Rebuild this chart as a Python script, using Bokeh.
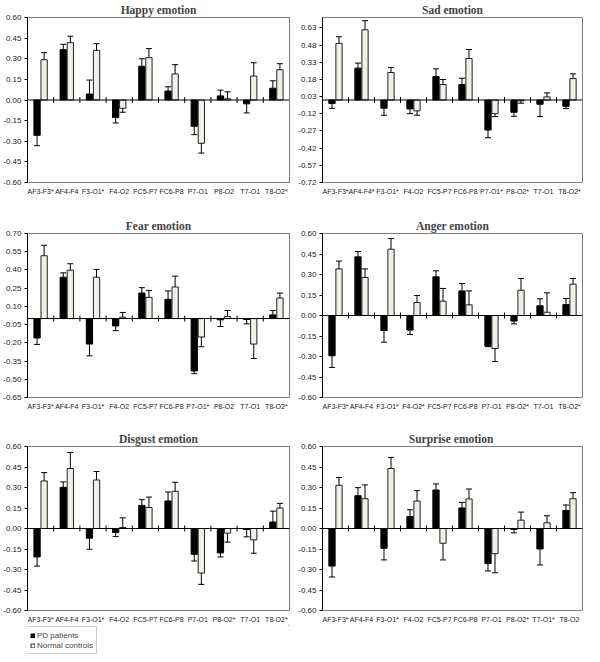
import math
from bokeh.plotting import figure
from bokeh.layouts import column, row
from bokeh.models import (FactorRange, Range1d, ColumnDataSource, Span, Legend, LegendItem,
                          FixedTicker, NumeralTickFormatter)
from bokeh.transform import dodge
from bokeh.embed import file_html
from bokeh.resources import INLINE

# ---------------- data ----------------
happy_cats = ["AF3-F3*", "AF4-F4", "F3-O1*", "F4-O2", "FC5-P7", "FC6-P8", "P7-O1", "P8-O2", "T7-O1", "T8-O2*"]
happy_pd = [-0.257, 0.366, 0.043, -0.128, 0.245, 0.065, -0.191, 0.030, -0.028, 0.086]
happy_pd_err = [0.075, 0.039, 0.102, 0.039, 0.055, 0.031, 0.061, 0.042, 0.066, 0.054]
happy_nc = [0.293, 0.417, 0.361, -0.060, 0.308, 0.189, -0.315, 0.009, 0.174, 0.220]
happy_nc_err = [0.051, 0.047, 0.049, 0.029, 0.066, 0.068, 0.071, 0.051, 0.097, 0.044]

sad_cats = ["AF3-F3*", "AF4-F4*", "F3-O1*", "F4-O2", "FC5-P7", "FC6-P8", "P7-O1*", "P8-O2*", "T7-O1", "T8-O2*"]
sad_pd = [-0.031, 0.278, -0.072, -0.078, 0.205, 0.135, -0.262, -0.107, -0.037, -0.055]
sad_pd_err = [0.041, 0.044, 0.061, 0.041, 0.067, 0.055, 0.067, 0.035, 0.108, 0.020]
sad_nc = [0.494, 0.613, 0.240, -0.095, 0.135, 0.362, -0.119, -0.008, 0.027, 0.187]
sad_nc_err = [0.058, 0.079, 0.044, 0.038, 0.044, 0.079, 0.026, 0.020, 0.035, 0.041]

fear_cats = ["AF3-F3*", "AF4-F4", "F3-O1*", "F4-O2", "FC5-P7", "FC6-P8", "P7-O1*", "P8-O2", "T7-O1", "T8-O2*"]
fear_pd = [-0.160, 0.340, -0.210, -0.061, 0.210, 0.158, -0.432, -0.011, -0.008, 0.030]
fear_pd_err = [0.053, 0.036, 0.097, 0.039, 0.044, 0.069, 0.022, 0.055, 0.036, 0.036]
fear_nc = [0.517, 0.398, 0.340, 0.011, 0.174, 0.260, -0.152, 0.017, -0.210, 0.169]
fear_nc_err = [0.086, 0.053, 0.064, 0.039, 0.058, 0.089, 0.080, 0.049, 0.119, 0.041]

anger_cats = ["AF3-F3*", "AF4-F4", "F3-O1*", "F4-O2*", "FC5-P7", "FC6-P8", "P7-O1", "P8-O2*", "T7-O1", "T8-O2*"]
anger_pd = [-0.295, 0.429, -0.110, -0.107, 0.283, 0.180, -0.224, -0.041, 0.071, 0.080]
anger_pd_err = [0.085, 0.039, 0.085, 0.032, 0.044, 0.054, 0.004, 0.020, 0.051, 0.044]
anger_nc = [0.341, 0.278, 0.485, 0.095, 0.105, 0.078, -0.241, 0.185, 0.024, 0.229]
anger_nc_err = [0.057, 0.063, 0.078, 0.051, 0.093, 0.102, 0.096, 0.086, 0.142, 0.042]

disgust_cats = ["AF3-F3*", "AF4-F4", "F3-O1*", "F4-O2", "FC5-P7", "FC6-P8", "P7-O1", "P8-O2*", "T7-O1", "T8-O2*"]
disgust_pd = [-0.208, 0.301, -0.071, -0.029, 0.169, 0.201, -0.189, -0.179, -0.007, 0.047]
disgust_pd_err = [0.067, 0.040, 0.081, 0.030, 0.042, 0.066, 0.049, 0.029, 0.054, 0.080]
disgust_nc = [0.348, 0.439, 0.355, 0.007, 0.154, 0.272, -0.326, -0.034, -0.083, 0.150]
disgust_nc_err = [0.061, 0.117, 0.062, 0.071, 0.076, 0.066, 0.083, 0.066, 0.098, 0.034]

surprise_cats = ["AF3-F3*", "AF4-F4", "F3-O1*", "F4-O2", "FC5-P7", "FC6-P8", "P7-O1", "P8-O2*", "T7-O1*", "T8-O2"]
surprise_pd = [-0.275, 0.240, -0.145, 0.088, 0.282, 0.150, -0.257, -0.007, -0.150, 0.132]
surprise_pd_err = [0.080, 0.059, 0.085, 0.049, 0.044, 0.041, 0.054, 0.025, 0.117, 0.040]
surprise_nc = [0.316, 0.218, 0.439, 0.201, -0.108, 0.216, -0.184, 0.061, 0.042, 0.218]
surprise_nc_err = [0.057, 0.101, 0.081, 0.076, 0.122, 0.073, 0.140, 0.059, 0.051, 0.044]

ticks_std = [-0.60, -0.45, -0.30, -0.15, 0.00, 0.15, 0.30, 0.45, 0.60]
ticks_sad = [-0.72, -0.57, -0.42, -0.27, -0.12, 0.03, 0.18, 0.33, 0.48, 0.63]
ticks_fear = [-0.65, -0.50, -0.35, -0.20, -0.05, 0.10, 0.25, 0.40, 0.55, 0.70]

series_names = ["PD patients", "Normal controls"]

PD_FILL = "#000000"
NC_FILL = "#F0F0E8"
SANS = "Liberation Sans"
SERIF = "Liberation Serif"


def ends(vals, errs):
    return [v + (e if v >= 0 else -e) for v, e in zip(vals, errs)]


def panel(title, cats, pdv, pde, ncv, nce, ymin, ymax, ticks, fw, fh, bottom, top, right):
    p = figure(x_range=FactorRange(factors=cats), y_range=Range1d(ymin, ymax),
               frame_width=fw, frame_height=fh, output_backend="svg", toolbar_location=None,
               min_border_left=2, min_border_right=right,
               min_border_top=top, min_border_bottom=bottom)
    p.title.text = title
    p.title.text_font = SERIF
    p.title.text_font_size = "11.5px"
    p.title.text_font_style = "bold"
    p.title.align = "center"
    p.title.standoff = 3
    p.title.offset = 0

    p.outline_line_color = "#7F7F7F"
    p.outline_line_width = 1
    p.xgrid.grid_line_color = None
    p.ygrid.grid_line_color = None

    src = ColumnDataSource(dict(cat=cats, pd=pdv, nc=ncv,
                                pd_end=ends(pdv, pde), nc_end=ends(ncv, nce)))
    off = 0.135
    bw = 0.24
    p.vbar(x=dodge("cat", -off, range=p.x_range), top="pd", bottom=0, width=bw,
           source=src, fill_color=PD_FILL, line_color="#000000", line_width=1)
    p.vbar(x=dodge("cat", off, range=p.x_range), top="nc", bottom=0, width=bw,
           source=src, fill_color=NC_FILL, line_color="#222222", line_width=1)

    for key, o in (("pd", -off), ("nc", off)):
        p.segment(x0=dodge("cat", o, range=p.x_range), x1=dodge("cat", o, range=p.x_range),
                  y0=key, y1=key + "_end", source=src, line_color="#000000", line_width=1)
        p.scatter(x=dodge("cat", o, range=p.x_range), y=key + "_end", marker="dash", size=6,
                  source=src, line_color="#000000", line_width=1)

    p.add_layout(Span(location=0, dimension="width", line_color="#000000", line_width=1))
    bsrc = ColumnDataSource(dict(cat=cats[:-1], y=[0] * (len(cats) - 1)))
    p.scatter(x=dodge("cat", 0.5, range=p.x_range), y="y", marker="dash", angle=math.pi / 2,
              size=6, source=bsrc, line_color="#000000", line_width=1)

    ya = p.yaxis[0]
    ya.ticker = FixedTicker(ticks=ticks)
    ya.formatter = NumeralTickFormatter(format="0.00")
    ya.major_label_text_font = SANS
    ya.major_label_text_font_size = "8px"
    ya.major_label_text_color = "#222222"
    ya.axis_line_color = "#000000"
    ya.major_tick_line_color = "#000000"
    ya.major_tick_in = 0
    ya.major_tick_out = 3
    ya.minor_tick_line_color = None
    ya.major_label_standoff = 3

    xa = p.xaxis[0]
    xa.axis_line_color = None
    xa.major_tick_line_color = None
    xa.minor_tick_line_color = None
    xa.major_tick_in = 0
    xa.major_tick_out = 0
    xa.major_label_text_font = SANS
    xa.major_label_text_font_size = "7px"
    xa.major_label_text_color = "#222222"
    xa.major_label_standoff = 5
    return p


LFW, RFW = 262, 260
p1 = panel("Happy emotion", happy_cats, happy_pd, happy_pd_err, happy_nc, happy_nc_err,
           -0.60, 0.60, ticks_std, LFW, 165, 34, 3, 6)
p2 = panel("Sad emotion", sad_cats, sad_pd, sad_pd_err, sad_nc, sad_nc_err,
           -0.72, 0.72, ticks_sad, RFW, 165, 34, 3, 4)
p3 = panel("Fear emotion", fear_cats, fear_pd, fear_pd_err, fear_nc, fear_nc_err,
           -0.65, 0.70, ticks_fear, LFW, 164, 32, 0, 6)
p4 = panel("Anger emotion", anger_cats, anger_pd, anger_pd_err, anger_nc, anger_nc_err,
           -0.60, 0.60, ticks_std, RFW, 164, 32, 0, 4)
p5 = panel("Disgust emotion", disgust_cats, disgust_pd, disgust_pd_err, disgust_nc, disgust_nc_err,
           -0.60, 0.60, ticks_std, LFW, 164, 0, 0, 6)
p6 = panel("Surprise  emotion", surprise_cats, surprise_pd, surprise_pd_err, surprise_nc, surprise_nc_err,
           -0.60, 0.60, ticks_std, RFW, 164, 0, 0, 4)

# legend strip under the Disgust panel (its sample glyphs sit outside the visible range)
leg = figure(width=294, height=31, output_backend="svg", toolbar_location=None,
             x_axis_type=None, y_axis_type=None, min_border=0,
             x_range=Range1d(0, 1), y_range=Range1d(0, 1))
leg.outline_line_color = None
leg.xgrid.grid_line_color = None
leg.ygrid.grid_line_color = None
sample = ColumnDataSource(dict(x=[10.0], top=[10.0]))
g_pd = leg.vbar(x="x", top="top", bottom=9.0, width=0.1, source=sample,
                fill_color=PD_FILL, line_color="#000000")
g_nc = leg.vbar(x="x", top="top", bottom=9.0, width=0.1, source=sample,
                fill_color="white", line_color="#222222")
lg = Legend(items=[LegendItem(label=series_names[0], renderers=[g_pd], index=0),
                   LegendItem(label=series_names[1], renderers=[g_nc], index=0)],
            location=(-1, 2), orientation="vertical",
            glyph_width=5, glyph_height=5, label_text_font=SANS,
            label_text_font_size="8px", label_height=10, label_standoff=2,
            spacing=0, padding=3, margin=0,
            border_line_color="#9A9A9A", border_line_width=1,
            background_fill_color="white", background_fill_alpha=1)
leg.add_layout(lg)

layout = column(row(p1, p2), row(p3, p4), row(column(p5, leg), p6))

with open("out.html", "w") as f:
    f.write(file_html(layout, INLINE))
